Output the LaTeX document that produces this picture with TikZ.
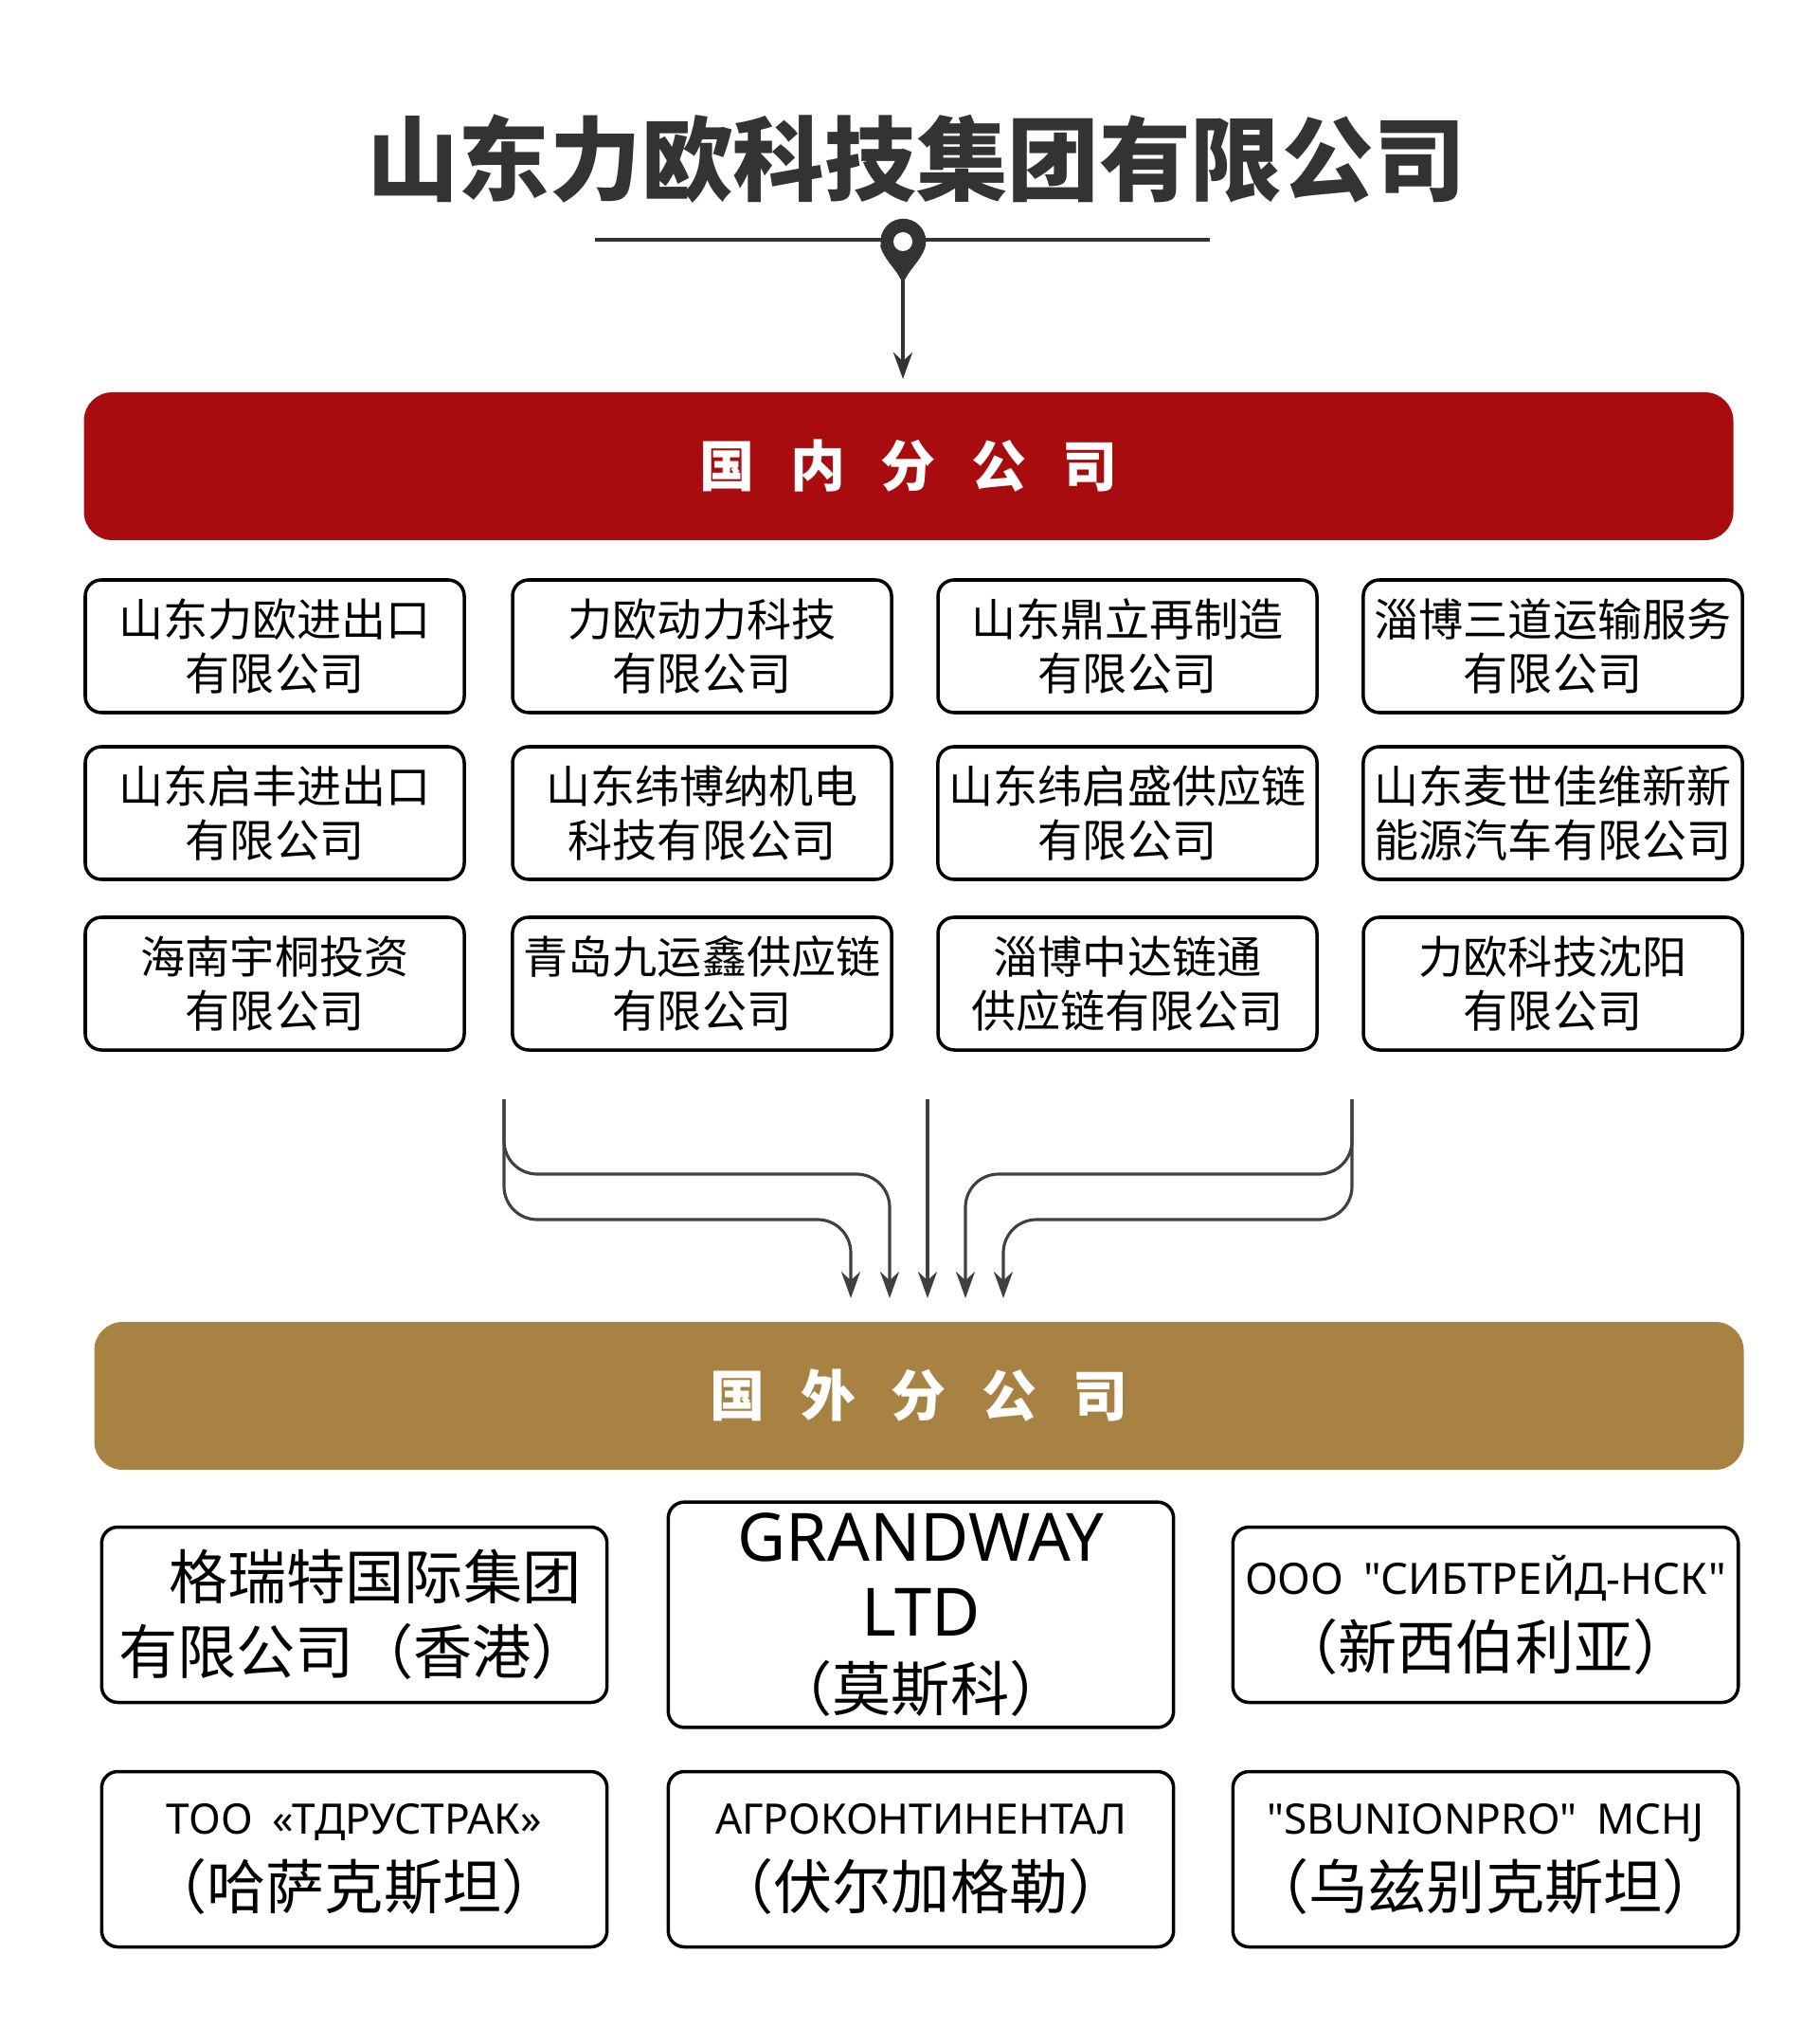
\documentclass[tikz,border=0pt]{standalone}
\usepackage{fontspec}
\setmainfont{Noto Sans CJK SC}
\newfontfamily\latinfont{Noto Sans}
\usetikzlibrary{positioning,arrows.meta,calc}
\definecolor{bannerred}{HTML}{A80C0E}
\definecolor{bannergold}{HTML}{A88242}
\definecolor{titlegray}{HTML}{333333}
\newcommand{\dfont}{\fontsize{13.4}{16.2}\selectfont}
\newcommand{\ffont}{\fontsize{17.7}{22.4}\selectfont}
\newcommand{\rfont}{\latinfont\fontsize{12.6}{18}\selectfont\bfseries}
\begin{document}
\begin{tikzpicture}[
dombox/.style={
  draw,
  rounded corners=0.17cm,
  line width=1pt,
  minimum width=4cm,
  minimum height=1.4cm,
  align=center,
  font=\dfont},
forbox/.style={
  draw,
  rounded corners=0.17cm,
  line width=1pt,
  minimum width=5.32cm,
  minimum height=1.85cm,
  text width=5.1cm,
  align=center,
  font=\ffont},
banner/.style={
  rounded corners=0.3cm,
  minimum width=17.41cm,
  minimum height=1.56cm,
  text=white,
  font=\fontsize{16.5}{20}\selectfont\bfseries},
flow/.style={
  draw=black!75,
  line width=0.9pt,
  rounded corners=0.35cm,
  -{Stealth[length=0.28cm,width=0.2cm]}}
]
\useasboundingbox (0,0) rectangle (19.2,-21.57);
% title and pin
\node[text=titlegray,font=\fontsize{27.5}{30}\selectfont\bfseries] (title) at (9.67,-1.68) {山东力欧科技集团有限公司};
\coordinate (LL) at (6.28,-2.53);
\coordinate (LR) at (12.77,-2.53);
\draw[titlegray,line width=1.4pt] (LL) -- (LR);
\coordinate (P) at (9.53,-2.55);
\fill[titlegray] (P) ++(-0.24,-0.04) .. controls (9.33,-2.75) and (9.48,-2.85) .. (9.53,-3.0)
  .. controls (9.58,-2.85) and (9.73,-2.75) .. (9.77,-2.59) arc[start angle=-10,end angle=190,radius=0.24];
\fill[white] (P) circle[radius=0.1];
\coordinate (PT) at (9.53,-2.95);
\coordinate (PE) at (9.53,-4.0);
\draw[titlegray,line width=1.2pt,-{Stealth[length=0.28cm,width=0.2cm]}] (PT) -- (PE);
% banners
\node[banner,fill=bannerred] (dom) at (9.59,-4.92) {国\hspace{0.65em}内\hspace{0.65em}分\hspace{0.65em}公\hspace{0.65em}司};
\node[banner,fill=bannergold] (for) at (9.70,-14.73) {国\hspace{0.65em}外\hspace{0.65em}分\hspace{0.65em}公\hspace{0.65em}司};
% domestic branches
\foreach \x/\y/\name/\txt in {
  2.90/-6.82/d11/{山东力欧进出口\\有限公司},
  7.41/-6.82/d12/{力欧动力科技\\有限公司},
  11.90/-6.82/d13/{山东鼎立再制造\\有限公司},
  16.39/-6.82/d14/{淄博三道运输服务\\有限公司},
  2.90/-8.58/d21/{山东启丰进出口\\有限公司},
  7.41/-8.58/d22/{山东纬博纳机电\\科技有限公司},
  11.90/-8.58/d23/{山东纬启盛供应链\\有限公司},
  16.39/-8.58/d24/{山东麦世佳维新新\\能源汽车有限公司},
  2.90/-10.38/d31/{海南宇桐投资\\有限公司},
  7.41/-10.38/d32/{青岛九运鑫供应链\\有限公司},
  11.90/-10.38/d33/{淄博中达链通\\供应链有限公司},
  16.39/-10.38/d34/{力欧科技沈阳\\有限公司}}
  \node[dombox] (\name) at (\x,\y) {\txt};
% flow arrows
\coordinate (SL) at (5.32,-11.60);
\coordinate (SM) at (9.79,-11.60);
\coordinate (SR) at (14.27,-11.60);
\coordinate (E1) at (8.98,-13.70);
\coordinate (E2) at (9.39,-13.70);
\coordinate (E3) at (9.79,-13.70);
\coordinate (E4) at (10.19,-13.70);
\coordinate (E5) at (10.59,-13.70);
\draw[flow] (SL) |- (9.39,-12.39) -- (E2);
\draw[flow] (SL) |- (8.98,-12.87) -- (E1);
\draw[flow] (SM) -- (E3);
\draw[flow] (SR) |- (10.19,-12.39) -- (E4);
\draw[flow] (SR) |- (10.59,-12.87) -- (E5);
% foreign branches
\node[forbox] (f11) at (3.74,-17.04) {\hspace{0.7em}格瑞特国际集团\\有限公司（香港）};
\node[forbox] (f12) at (9.72,-17.04) {{\latinfont\fontsize{20}{22}\selectfont GRANDWAY LTD}\\（莫斯科）};
\node[forbox] (f13) at (15.68,-17.04) {{\latinfont\fontsize{13}{18}\selectfont\bfseries ООО "СИБТРЕЙД-НСК"}\\（新西伯利亚）};
\node[forbox] (f21) at (3.74,-19.62) {{\rfont ТОО «ТДРУСТРАК»}\\（哈萨克斯坦）};
\node[forbox] (f22) at (9.72,-19.62) {{\rfont АГРОКОНТИНЕНТАЛ}\\（伏尔加格勒）};
\node[forbox] (f23) at (15.68,-19.62) {{\rfont "SBUNIONPRO" MCHJ}\\（乌兹别克斯坦）};
\end{tikzpicture}
\end{document}
